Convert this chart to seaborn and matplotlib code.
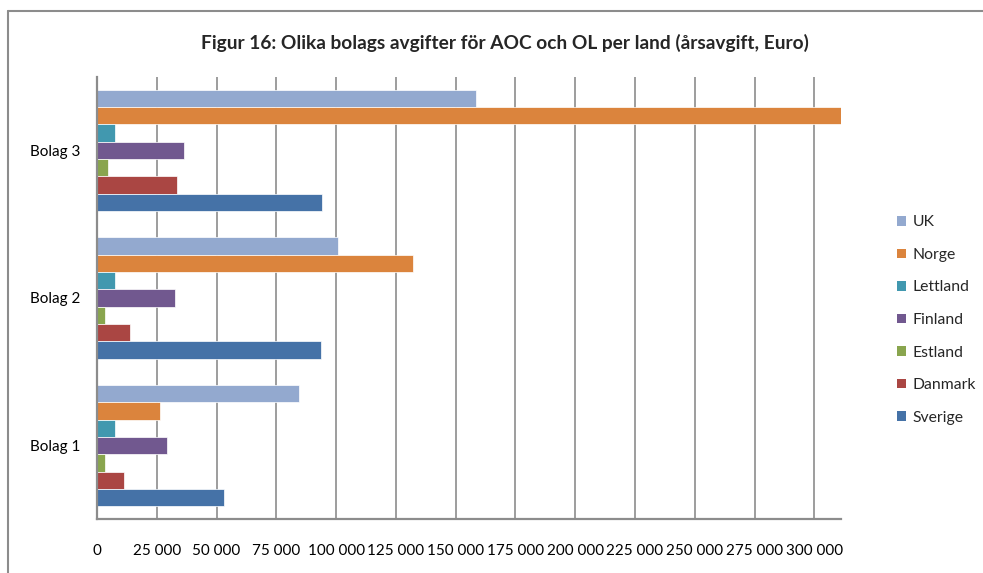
import matplotlib
matplotlib.use("Agg")
import matplotlib.pyplot as plt
import seaborn as sns
import pandas as pd
from matplotlib.lines import Line2D
from matplotlib.patches import Patch
from matplotlib.ticker import FuncFormatter, FixedLocator

# Annual fees (Euro) per company and country
companies = ["Bolag 3", "Bolag 2", "Bolag 1"]
countries = ["UK", "Norge", "Lettland", "Finland", "Estland", "Danmark", "Sverige"]
uk = [158400, 100700, 84300]
norge = [311000, 132300, 26200]
lettland = [7400, 7400, 7400]
finland = [36500, 32600, 29400]
estland = [4750, 3340, 3340]
danmark = [33300, 13800, 11150]
sverige = [94100, 93500, 53300]
x_ticks = [0, 25000, 50000, 75000, 100000, 125000, 150000, 175000,
           200000, 225000, 250000, 275000, 300000]
x_max = 311000

colors = ["#93A9CF", "#DB843D", "#4198AF", "#71588F", "#89A54E", "#AA4643", "#4572A7"]
title = "Figur 16: Olika bolags avgifter för AOC och OL per land (årsavgift, Euro)"

series = dict(zip(countries, [uk, norge, lettland, finland, estland, danmark, sverige]))
rows = []
for country, vals in series.items():
    for comp, v in zip(companies, vals):
        rows.append({"company": comp, "country": country, "value": v})
df = pd.DataFrame(rows)

sns.set_style("white")
plt.rcParams["font.family"] = ["Lato", "DejaVu Sans"]

W, H = 983, 573
fig = plt.figure(figsize=(W / 100, H / 100), dpi=100)
ax = fig.add_axes([97 / W, 1 - 519.3 / H, (840.7 - 97) / W, (519.3 - 76.7) / H])

sns.barplot(data=df, x="value", y="company", hue="country", order=companies,
            hue_order=countries, palette=colors, width=0.823, orient="h",
            edgecolor="white", linewidth=0.5, saturation=1, ax=ax, legend=False)

grid_col = "#8c8c8c"
ax.set_xlim(0, x_max)
ax.xaxis.set_major_locator(FixedLocator(x_ticks))
ax.xaxis.set_major_formatter(FuncFormatter(lambda v, p: f"{int(v):,}".replace(",", " ")))
ax.xaxis.grid(True, color=grid_col, linewidth=1.2)
ax.yaxis.grid(False)
ax.set_axisbelow(True)
for side in ["top", "right"]:
    ax.spines[side].set_visible(False)
for side in ["left", "bottom"]:
    ax.spines[side].set_color(grid_col)
    ax.spines[side].set_linewidth(1.6)
ax.tick_params(axis="x", length=0, pad=18, labelsize=11, colors="black")
ax.tick_params(axis="y", length=0, pad=12, labelsize=11, colors="black")
ax.set_xlabel("")
ax.set_ylabel("")

fig.text(505 / W, 1 - 43 / H, title, ha="center", va="center",
         fontsize=13.8, fontweight="bold")

handles = [Patch(facecolor=c, edgecolor="none") for c in colors]
fig.legend(handles, countries, loc="center left",
           bbox_to_anchor=(897 / W, 1 - 320 / H), bbox_transform=fig.transFigure,
           frameon=False, fontsize=11.3, handlelength=0.55, handleheight=0.55,
           handletextpad=0.45, labelspacing=1.18, borderpad=0, borderaxespad=0)

# Outer chart frame
fig.add_artist(Line2D([8 / W, 8 / W], [0, 1 - 11 / H], color=grid_col, linewidth=1.5))
fig.add_artist(Line2D([8 / W, 1], [1 - 11 / H, 1 - 11 / H], color=grid_col, linewidth=1.5))

fig.savefig("out.png", dpi=100)
